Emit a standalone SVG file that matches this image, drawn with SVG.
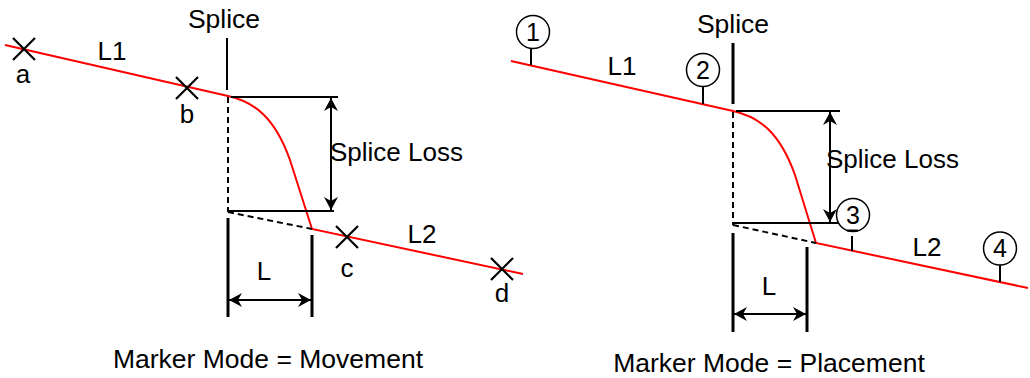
<svg xmlns="http://www.w3.org/2000/svg" width="1030" height="378" viewBox="0 0 1030 378">
<style>
text{font-family:"Liberation Sans",Arial,sans-serif;fill:#000}
.t{font-size:26px}
.tb{font-size:26.5px}
.n{font-size:25px;text-anchor:middle}
.c{text-anchor:middle}
.red{fill:none;stroke:#ff0000;stroke-width:2}
.blk{fill:none;stroke:#000;stroke-width:2}
.thk{fill:none;stroke:#000;stroke-width:3}
.dash{fill:none;stroke:#000;stroke-width:2;stroke-dasharray:6,4}
.x{fill:none;stroke:#000;stroke-width:2.2}
.circ{fill:#fff;stroke:#000;stroke-width:1.5}
.arr{fill:none;stroke:#000;stroke-width:2;marker-start:url(#ah);marker-end:url(#ah)}
</style>
<defs>
<marker id="ah" markerUnits="userSpaceOnUse" markerWidth="16" markerHeight="16" viewBox="-14 -8 16 16" refX="0" refY="0" orient="auto-start-reverse">
<path d="M0,0 L-13,-7 L-9,0 L-13,7 Z" fill="#000"/>
</marker>
</defs>
<rect width="1030" height="378" fill="#fff"/>

<g id="left-panel">
  <g id="left-fiber">
    <path class="red" d="M5,45 L228,96 C255,102 275,118 290,160 L312,229 L523,274"/>
  </g>
  <g id="left-splice">
    <line class="blk" x1="227" y1="38" x2="227" y2="90"/>
    <text class="tb c" x="224" y="28">Splice</text>
    <line class="dash" x1="228" y1="97" x2="228" y2="212"/>
    <line class="blk" x1="231" y1="97" x2="338" y2="97"/>
    <line class="blk" x1="228" y1="211" x2="334" y2="211"/>
    <line class="dash" x1="228" y1="212" x2="312" y2="229"/>
    <line class="thk" x1="228" y1="218" x2="228" y2="317"/>
    <line class="thk" x1="312" y1="235" x2="312" y2="317"/>
    <text class="t" x="330" y="161">Splice Loss</text>
    <text class="t c" x="264" y="280">L</text>
  </g>
  <g id="marker-a">
    <path class="x" d="M13,38 L35,60 M35,38 L13,60"/>
    <text class="t c" x="23" y="83">a</text>
  </g>
  <g id="marker-b">
    <path class="x" d="M176,77 L198,99 M198,77 L176,99"/>
    <text class="t c" x="187" y="123">b</text>
  </g>
  <g id="marker-c">
    <path class="x" d="M336,226 L358,248 M358,226 L336,248"/>
    <text class="t c" x="347" y="277">c</text>
  </g>
  <g id="marker-d">
    <path class="x" d="M491,258 L513,280 M513,258 L491,280"/>
    <text class="t c" x="502" y="302">d</text>
  </g>
  <text class="t c" x="112" y="60">L1</text>
  <text class="t c" x="422" y="243">L2</text>
  <text class="tb c" x="268" y="368">Marker Mode = Movement</text>
</g>

<g id="right-panel">
  <g id="right-fiber">
    <path class="red" d="M511,61 L733,111 C760,117 780,133 795,175 L816,243 L1028,288"/>
  </g>
  <g id="right-splice">
    <line class="thk" x1="733" y1="43" x2="733" y2="104"/>
    <text class="tb c" x="733" y="33">Splice</text>
    <line class="dash" x1="733" y1="112" x2="733" y2="225"/>
    <line class="blk" x1="736" y1="111" x2="840" y2="111"/>
    <line class="blk" x1="733" y1="223" x2="840" y2="223"/>
    <line class="dash" x1="733" y1="225" x2="816" y2="243"/>
    <line class="thk" x1="733" y1="233" x2="733" y2="332"/>
    <line class="thk" x1="807" y1="247" x2="807" y2="332"/>
    <text class="t" x="826" y="168">Splice Loss</text>
    <text class="t c" x="769" y="295">L</text>
  </g>
  <g id="placement-1">
    <line class="blk" x1="531" y1="49" x2="531" y2="65"/>
    <circle class="circ" cx="533" cy="32" r="16.5"/>
    <text class="n" x="533" y="41">1</text>
  </g>
  <g id="placement-2">
    <line class="blk" x1="703" y1="87" x2="703" y2="104"/>
    <circle class="circ" cx="703" cy="70" r="16.5"/>
    <text class="n" x="703" y="79">2</text>
  </g>
  <g id="placement-3">
    <line class="blk" x1="852" y1="236" x2="852" y2="251"/>
    <circle class="circ" cx="853" cy="215" r="16.5"/>
    <line x1="847" y1="230.5" x2="858" y2="230.5" stroke="#000" stroke-width="2"/>
    <text class="n" x="853" y="224">3</text>
  </g>
  <g id="placement-4">
    <line class="blk" x1="1000" y1="265" x2="1000" y2="282"/>
    <circle class="circ" cx="1000" cy="248.5" r="16.5"/>
    <text class="n" x="1000" y="257">4</text>
  </g>
  <text class="t c" x="622" y="75">L1</text>
  <text class="t c" x="927" y="256">L2</text>
  <text class="tb c" x="769" y="372">Marker Mode = Placement</text>
</g>

<g id="connectors">
  <line class="arr" x1="331" y1="98" x2="331" y2="210"/>
  <line class="arr" x1="229" y1="300" x2="311" y2="300"/>
  <line class="arr" x1="830" y1="112" x2="830" y2="222"/>
  <line class="arr" x1="734" y1="314" x2="806" y2="314"/>
</g>
</svg>
